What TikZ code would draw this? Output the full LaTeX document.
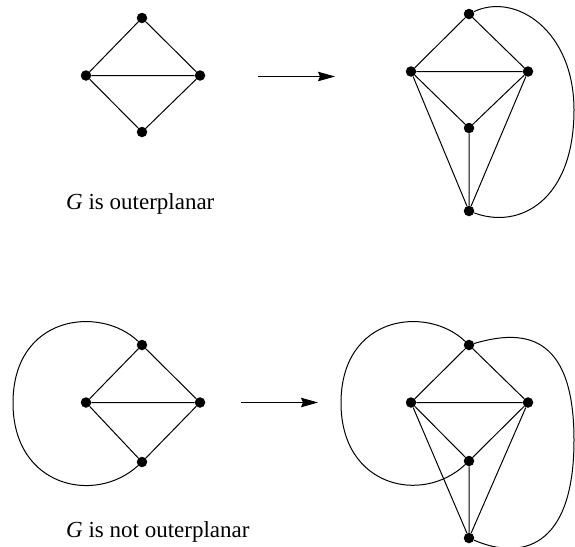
\documentclass[tikz,border=0pt]{standalone}
\usepackage{fontspec}
\setmainfont{Liberation Serif}
\usetikzlibrary{arrows.meta}
\begin{document}
\begin{tikzpicture}[x=1pt,y=-1pt,
  vtx/.style={circle,fill=black,inner sep=0pt,minimum size=10.5pt},
  edge/.style={line width=1pt},
  maparrow/.style={line width=1pt,-{Stealth[length=17pt,width=9.5pt,inset=2pt]}},
  caption/.style={anchor=base west,inner sep=0pt,font=\fontsize{23}{26}\selectfont}]
\useasboundingbox (0,0) rectangle (575,546);
% top-left graph
\node[vtx] (a1) at (142,18) {};
\node[vtx] (a2) at (86,75.5) {};
\node[vtx] (a3) at (200,75.5) {};
\node[vtx] (a4) at (142,132) {};
\draw[edge] (a1) -- (a2) (a1) -- (a3) (a2) -- (a3) (a2) -- (a4) (a3) -- (a4);
% top arrow
\coordinate (p1) at (258,76.5);
\coordinate (p2) at (335,76.5);
\draw[maparrow] (p1) -- (p2);
% top-right graph
\node[vtx] (b1) at (469,14) {};
\node[vtx] (b2) at (411,71.5) {};
\node[vtx] (b3) at (528,71.5) {};
\node[vtx] (b5) at (469,128) {};
\node[vtx] (b4) at (469,211) {};
\draw[edge] (b1) -- (b2) (b1) -- (b3) (b2) -- (b3) (b2) -- (b5) (b3) -- (b5)
  (b2) -- (b4) (b3) -- (b4) (b5) -- (b4);
\draw[edge] (b1) .. controls (515,-8) and (574,30) .. (574,110)
  .. controls (574,200) and (520,230) .. (b4);
\node[caption] (t1) at (66,209) {\textit{G} is outerplanar};
% bottom-left graph
\node[vtx] (c1) at (142,345) {};
\node[vtx] (c2) at (86,402.5) {};
\node[vtx] (c3) at (200,402.5) {};
\node[vtx] (c4) at (142,462) {};
\draw[edge] (c1) -- (c2) (c1) -- (c3) (c2) -- (c3) (c2) -- (c4) (c3) -- (c4);
\draw[edge] (c1) .. controls (100,305) and (13,315) .. (13,403)
  .. controls (13,487) and (95,505) .. (c4);
% bottom arrow
\coordinate (q1) at (241,402.5);
\coordinate (q2) at (318,402.5);
\draw[maparrow] (q1) -- (q2);
% bottom-right graph
\node[vtx] (d1) at (469,345) {};
\node[vtx] (d2) at (411,402.5) {};
\node[vtx] (d3) at (528,402.5) {};
\node[vtx] (d5) at (469,461) {};
\node[vtx] (d4) at (469,538) {};
\draw[edge] (d1) -- (d2) (d1) -- (d3) (d2) -- (d3) (d2) -- (d5) (d3) -- (d5)
  (d2) -- (d4) (d3) -- (d4) (d5) -- (d4);
\draw[edge] (d1) .. controls (427,305) and (341,315) .. (341,403)
  .. controls (341,487) and (422,505) .. (d5);
\draw[edge] (d1) .. controls (520,330) and (574,330) .. (574,440)
  .. controls (574,550) and (520,560) .. (d4);
\node[caption] (t2) at (66,537) {\textit{G} is not outerplanar};
\end{tikzpicture}
\end{document}
